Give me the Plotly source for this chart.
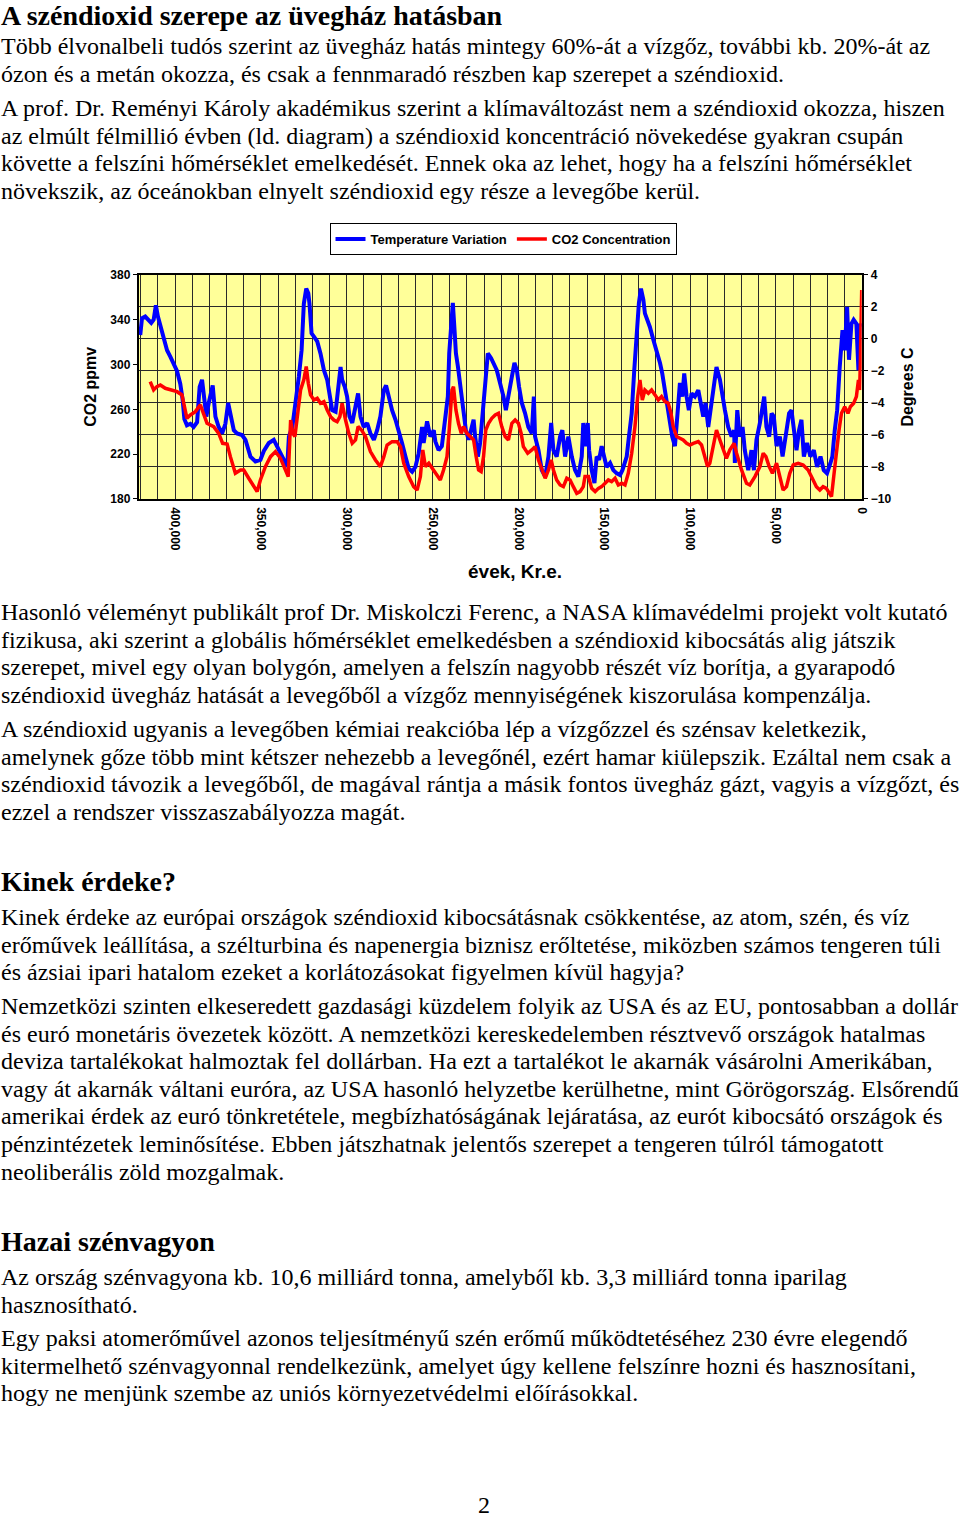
import plotly.graph_objects as go

W, H = 960, 1517

# ---------------- data ----------------
temp_years = [420300, 419300, 417400, 415400, 413900, 412500, 411200, 410000, 408600, 406700,
              404700, 402800, 400900, 398900, 397000, 395600, 394600, 393100, 391100, 389200,
              387200, 385700, 384300, 383000, 381800, 380400, 379100, 378100, 376500, 374600,
              372600, 370700, 369100, 367800, 365800, 363900, 361000, 359000, 356100, 353200,
              350300, 348300, 345400, 342500, 340500, 337600, 335600, 334700, 333700, 331700,
              329800, 327900, 326300, 325000, 323600, 322400, 321700, 320500, 319100, 317200,
              315300, 313300, 311400, 310000, 308500, 306500, 304600, 303600, 302700, 301100,
              299800, 298400, 296800, 294900, 293400, 292000, 290100, 288100, 286200, 284200,
              282300, 280400, 278400, 277100, 275500, 273600, 271600, 269700, 267800, 265800,
              263900, 261900, 260000, 258100, 256100, 255200, 253200, 251300, 249300, 248400,
              246500, 244600, 242600, 241100, 240300, 239100, 238200, 237200, 236400, 235200,
              233900, 232000, 230600, 229000, 227500, 226100, 225200, 223600, 222300, 220900,
              219400, 217800, 215900, 213900, 212600, 210700, 208700, 207300, 205800, 203800,
              202300, 200900, 199600, 198000, 196100, 194200, 192200, 191000, 190300, 188300,
              186400, 184400, 182500, 180900, 179600, 177700, 175700, 174400, 172800, 170900,
              168900, 167000, 165100, 163100, 162200, 161200, 159600, 158800, 157300, 155700,
              154400, 153000, 151500, 149900, 148600, 146600, 144700, 142700, 140800, 139400,
              138300, 136900, 135600, 134000, 132500, 131100, 129800, 128600, 127200, 126300,
              124700, 123400, 121400, 119500, 117500, 116200, 114600, 113100, 111700, 110400,
              108800, 107300, 105900, 104500, 103400, 102000, 100700, 99100, 97200, 95200,
              93700, 92300, 91000, 89400, 87500, 85900, 84600, 82600, 81300, 79700,
              77800, 75800, 74300, 73900, 72500, 71000, 69400, 68100, 66100, 64200,
              62800, 61300, 59300, 57800, 56800, 55500, 53900, 52500, 51200, 49600,
              47700, 46100, 44200, 42300, 40900, 39600, 38000, 36500, 35100, 33700,
              31800, 29900, 27900, 26000, 24000, 22100, 20200, 18200, 17100, 15700,
              14300, 12800, 11200, 9900, 8500, 7400, 6000, 4700, 3100, 1900,
              1200, 400]
temp_values = [0.25, 1.29, 1.4, 1.2, 1.0, 1.2, 2.1, 1.4, 0.8, 0.15,
               -0.7, -1.1, -1.5, -2.0, -2.8, -3.8, -5.0, -5.4, -5.3, -5.5,
               -5.2, -3.0, -2.55, -4.0, -4.85, -4.0, -3.2, -2.9, -4.85, -5.5,
               -5.9, -5.3, -4.0, -4.65, -5.7, -5.9, -6.0, -6.3, -7.35, -7.65,
               -7.55, -7.0, -6.5, -6.3, -6.7, -7.35, -7.77, -8.0, -6.1, -5.5,
               -4.0, -2.35, -0.7, 2.2, 3.15, 2.85, 2.2, 0.35, 0.15, -0.15,
               -0.9, -1.95, -2.55, -3.6, -4.45, -4.55, -2.55, -1.75, -2.55, -3.0,
               -3.6, -4.85, -5.25, -4.25, -3.4, -4.85, -5.5, -5.25, -5.9, -6.3,
               -5.7, -4.85, -3.2, -2.9, -3.6, -4.45, -5.05, -5.7, -6.5, -7.35,
               -8.1, -8.3, -8.0, -7.15, -5.5, -6.5, -5.15, -6.1, -5.7, -6.4,
               -6.95, -6.7, -5.05, -3.6, -0.9, 1.2, 2.25, 0.55, -0.9, -1.75,
               -3.0, -4.45, -5.7, -6.3, -5.5, -5.05, -6.1, -7.35, -6.5, -4.85,
               -3.0, -0.9, -1.2, -1.75, -1.95, -2.75, -3.6, -4.45, -3.4, -2.35,
               -1.5, -1.95, -3.0, -4.0, -4.65, -5.5, -5.9, -3.6, -6.1, -6.95,
               -8.2, -8.6, -7.35, -5.25, -6.95, -7.35, -6.1, -5.7, -7.35, -6.1,
               -7.35, -8.2, -8.6, -7.35, -5.25, -6.7, -5.25, -6.95, -8.2, -9.0,
               -7.35, -7.55, -6.7, -7.35, -8.0, -7.75, -8.2, -8.4, -8.5, -8.2,
               -7.75, -7.35, -6.1, -4.65, -1.95, 0.15, 2.25, 3.15, 2.45, 1.6,
               1.2, 0.75, -0.05, -0.7, -1.5, -2.15, -3.2, -4.25, -5.25, -6.1,
               -6.7, -4.65, -2.75, -3.6, -2.15, -3.6, -4.45, -3.4, -3.6, -3.2,
               -4.0, -4.85, -4.0, -5.5, -4.0, -2.55, -1.75, -2.55, -3.6, -4.45,
               -5.5, -6.1, -5.7, -7.75, -4.45, -6.1, -5.5, -6.95, -8.2, -6.95,
               -8.2, -6.3, -5.25, -4.0, -3.6, -5.5, -6.1, -4.65, -4.85, -6.7,
               -6.1, -7.35, -6.1, -4.65, -4.45, -5.7, -6.95, -5.7, -5.05, -7.35,
               -6.5, -7.35, -6.95, -8.0, -7.35, -8.2, -8.4, -7.75, -7.35, -5.7,
               -4.45, -1.75, 0.55, -0.7, 2.0, -1.3, 0.95, 1.2, 0.95, -1.95,
               0.95, 0.75]

co2_years = [414500, 412500, 410600, 408600, 405700, 401800, 398900, 396000, 394400, 393100,
             391100, 388200, 385300, 383300, 381400, 377500, 374600, 372300, 369700, 367800,
             364900, 361900, 360000, 357100, 354200, 352200, 350300, 347400, 344400, 341500,
             338600, 335600, 334100, 332700, 331400, 330200, 328800, 326900, 325000, 323600,
             322400, 321100, 319100, 317200, 315300, 313300, 311400, 309400, 307500, 305600,
             304000, 302700, 300700, 298800, 296800, 294900, 293400, 291400, 289100, 286200,
             283300, 280400, 278400, 276500, 273600, 270700, 268700, 266800, 263900, 261000,
             259000, 257100, 255700, 254200, 252200, 250300, 248400, 245500, 243600, 241600,
             240300, 238700, 237800, 236400, 234900, 233300, 232000, 230000, 228100, 226100,
             224600, 223200, 221700, 220300, 219000, 217400, 215500, 213500, 211600, 209700,
             207700, 205800, 203800, 201900, 200000, 198400, 197100, 194600, 192200, 190300,
             188300, 186400, 184400, 182500, 180900, 179600, 177700, 175700, 173800, 171800,
             169900, 168000, 166000, 164100, 162200, 161200, 159200, 157300, 155300, 153400,
             151500, 149500, 147600, 145700, 143700, 141800, 139800, 137900, 136000, 134000,
             132100, 130500, 129200, 127800, 126300, 124300, 122400, 120400, 118500, 116600,
             114600, 112700, 111100, 109800, 107800, 105900, 104000, 102000, 100100, 98100,
             95200, 93300, 91400, 89800, 88500, 86500, 84600, 82600, 80700, 78800,
             76800, 74300, 72900, 70000, 67100, 65200, 62200, 59300, 57400, 55800,
             53900, 52000, 49600, 47700, 45800, 43800, 41900, 39900, 37000, 34100,
             31200, 28300, 26400, 24400, 22500, 20600, 18600, 17600, 16300, 14700,
             13200, 11800, 9900, 8000, 6600, 4700, 3100, 1900, 1200, 800,
             400, 0]
co2_values = [284.8, 277.3, 280.3, 281.8, 278.8, 277.3, 275.8, 272.9, 259.5, 252.0,
              255.0, 258.0, 264.0, 256.5, 247.6, 244.6, 238.6, 229.7, 229.1, 217.8,
              202.9, 205.9, 205.9, 198.5, 191.0, 186.6, 197.0, 208.9, 217.8, 222.3,
              216.3, 204.0, 200.0, 250.5, 238.6, 235.7, 253.5, 277.3, 286.3, 298.2,
              283.3, 272.9, 268.4, 269.9, 265.4, 266.9, 259.5, 253.5, 250.5, 249.0,
              253.5, 265.4, 250.5, 238.6, 229.7, 232.7, 244.6, 241.6, 235.7, 222.3,
              214.8, 208.9, 217.8, 228.2, 231.2, 231.2, 226.7, 211.9, 200.0, 191.0,
              188.0, 200.0, 223.8, 208.9, 211.9, 207.4, 204.0, 197.0, 205.9, 217.8,
              241.6, 277.3, 280.3, 259.5, 247.6, 238.6, 244.6, 238.6, 235.7, 232.7,
              217.8, 205.9, 204.4, 217.8, 241.6, 247.6, 252.0, 255.0, 256.5, 244.6,
              235.7, 232.7, 247.6, 250.5, 247.6, 238.6, 226.7, 220.8, 223.8, 226.7,
              214.8, 205.9, 198.5, 205.9, 214.8, 205.9, 197.0, 192.5, 191.0, 198.5,
              197.0, 191.0, 185.1, 186.6, 191.0, 200.0, 200.0, 189.5, 186.6, 189.5,
              191.0, 194.0, 197.0, 195.5, 198.5, 192.5, 194.0, 192.5, 202.9, 220.8,
              244.6, 271.4, 286.3, 268.4, 277.3, 274.4, 277.3, 272.9, 268.4, 271.4,
              266.9, 265.4, 256.5, 244.6, 235.7, 234.2, 232.7, 229.7, 228.2, 229.7,
              231.2, 228.2, 217.8, 208.9, 211.9, 226.7, 241.6, 232.7, 223.8, 216.3,
              223.8, 229.7, 220.8, 205.9, 194.0, 192.5, 200.0, 208.9, 220.8, 217.8,
              208.9, 202.9, 211.9, 200.0, 188.0, 191.0, 202.9, 210.4, 211.9, 210.4,
              205.9, 197.0, 191.0, 188.0, 191.0, 189.5, 185.1, 182.1, 200.0, 223.8,
              241.6, 256.5, 262.4, 256.5, 262.4, 265.4, 271.4, 286.3, 277.3, 301.1,
              339.8, 366.6]

x_tick_values = [400000, 350000, 300000, 250000, 200000, 150000, 100000, 50000, 0]
x_tick_labels = ["400,000", "350,000", "300,000", "250,000", "200,000",
                 "150,000", "100,000", "50,000", "0"]
co2_ticks = [180, 220, 260, 300, 340, 380]
temp_ticks = [-10, -8, -6, -4, -2, 0, 2, 4]

# ---------------- page text ----------------
heading_1 = "A széndioxid szerepe az üvegház hatásban"
para_1 = [
    "Több élvonalbeli tudós szerint az üvegház hatás mintegy 60%-át a vízgőz, további kb. 20%-át az",
    "ózon és a metán okozza, és csak a fennmaradó részben kap szerepet a széndioxid.",
]
para_2 = [
    "A prof. Dr. Reményi Károly akadémikus szerint a klímaváltozást nem a széndioxid okozza, hiszen",
    "az elmúlt félmillió évben (ld. diagram) a széndioxid koncentráció növekedése gyakran csupán",
    "követte a felszíni hőmérséklet emelkedését. Ennek oka az lehet, hogy ha a felszíni hőmérséklet",
    "növekszik, az óceánokban elnyelt széndioxid egy része a levegőbe kerül.",
]
para_3 = [
    "Hasonló véleményt publikált prof Dr. Miskolczi Ferenc, a NASA klímavédelmi projekt volt kutató",
    "fizikusa, aki szerint a globális hőmérséklet emelkedésben a széndioxid kibocsátás alig játszik",
    "szerepet, mivel egy olyan bolygón, amelyen a felszín nagyobb részét víz borítja, a gyarapodó",
    "széndioxid üvegház hatását a levegőből a vízgőz mennyiségének kiszorulása kompenzálja.",
]
para_4 = [
    "A széndioxid ugyanis a levegőben kémiai reakcióba lép a vízgőzzel és szénsav keletkezik,",
    "amelynek gőze több mint kétszer nehezebb a levegőnél, ezért hamar kiülepszik. Ezáltal nem csak a",
    "széndioxid távozik a levegőből, de magával rántja a másik fontos üvegház gázt, vagyis a vízgőzt, és",
    "ezzel a rendszer visszaszabályozza magát.",
]
heading_2 = "Kinek érdeke?"
para_5 = [
    "Kinek érdeke az európai országok széndioxid kibocsátásnak csökkentése, az atom, szén, és víz",
    "erőművek leállítása, a szélturbina és napenergia biznisz erőltetése, miközben számos tengeren túli",
    "és ázsiai ipari hatalom ezeket a korlátozásokat figyelmen kívül hagyja?",
]
para_6 = [
    "Nemzetközi szinten elkeseredett gazdasági küzdelem folyik az USA és az EU, pontosabban a dollár",
    "és euró monetáris övezetek között. A nemzetközi kereskedelemben résztvevő országok hatalmas",
    "deviza tartalékokat halmoztak fel dollárban. Ha ezt a tartalékot le akarnák vásárolni Amerikában,",
    "vagy át akarnák váltani euróra, az USA hasonló helyzetbe kerülhetne, mint Görögország. Elsőrendű",
    "amerikai érdek az euró tönkretétele, megbízhatóságának lejáratása, az eurót kibocsátó országok és",
    "pénzintézetek leminősítése. Ebben játszhatnak jelentős szerepet a tengeren túlról támogatott",
    "neoliberális zöld mozgalmak.",
]
heading_3 = "Hazai szénvagyon"
para_7 = [
    "Az ország szénvagyona kb. 10,6 milliárd tonna, amelyből kb. 3,3 milliárd tonna iparilag",
    "hasznosítható.",
]
para_8 = [
    "Egy paksi atomerőművel azonos teljesítményű szén erőmű működtetéséhez 230 évre elegendő",
    "kitermelhető szénvagyonnal rendelkezünk, amelyet úgy kellene felszínre hozni és hasznosítani,",
    "hogy ne menjünk szembe az uniós környezetvédelmi előírásokkal.",
]
page_number = "2"

# ---------------- helpers ----------------
SERIF = "Times New Roman, Liberation Serif, serif"
SANS = "Arial, Liberation Sans, sans-serif"
LINE = 27.6


def fx(px):
    return ((px + 1.0) / 0.9942) / W


def fy(py):
    return 1 - ((py - 7.1) / 0.9906) / H


annotations = []


def text_line(txt, x, y, size=24, bold=False, family=SERIF, anchor="left", angle=0, raw_x=False):
    annotations.append(dict(
        text=txt, x=(x / W if raw_x else fx(x)), y=fy(y), xref="paper", yref="paper",
        xanchor=anchor, yanchor="middle", showarrow=False, textangle=angle,
        borderpad=0,
        font=dict(family=family, size=size, color="black",
                  weight="bold" if bold else "normal"),
    ))


def paragraph(lines, y0):
    for i, ln in enumerate(lines):
        text_line(ln, 0, y0 + i * LINE, raw_x=True)


text_line(heading_1, 0, 16, size=28, bold=True, raw_x=True)
paragraph(para_1, 46)
paragraph(para_2, 108)
paragraph(para_3, 612)
paragraph(para_4, 729)
text_line(heading_2, 0, 881, size=28, bold=True, raw_x=True)
paragraph(para_5, 917)
paragraph(para_6, 1006)
text_line(heading_3, 0, 1241, size=28, bold=True, raw_x=True)
paragraph(para_7, 1277)
paragraph(para_8, 1338)
text_line(page_number, 484, 1505, anchor="center")

# chart titles
text_line("CO2 ppmv", 90, 387, size=16, bold=True, family=SANS, anchor="center", angle=-90)
text_line("Degrees C", 908, 387, size=16, bold=True, family=SANS, anchor="center", angle=-90)
text_line("évek, Kr.e.", 515, 572, size=19, bold=True, family=SANS, anchor="center")

# ---------------- figure ----------------
fig = go.Figure()
fig.add_trace(go.Scatter(
    x=temp_years, y=temp_values, name="Temperature Variation", mode="lines",
    line=dict(color="#0000FF", width=4), yaxis="y"))
fig.add_trace(go.Scatter(
    x=co2_years, y=co2_values, name="CO2 Concentration", mode="lines",
    line=dict(color="#FF0000", width=3.5), yaxis="y2"))

tickfont = dict(family=SANS, size=12, color="black", weight="bold")
GRID = "#2a2a2a"
ydom = [fy(499), fy(275)]

fig.update_layout(
    width=W, height=H,
    margin=dict(l=0, r=0, t=0, b=0),
    paper_bgcolor="white",
    plot_bgcolor="#FFFF99",
    showlegend=True,
    legend=dict(
        orientation="h", x=fx(329), y=fy(223), xanchor="left", yanchor="top",
        bordercolor="black", borderwidth=1, bgcolor="white",
        font=dict(family=SANS, size=13, color="black", weight="bold"),
        tracegroupgap=0, itemwidth=30,
    ),
    xaxis=dict(
        domain=[fx(138), fx(862)], range=[421150, 0], anchor="y",
        tickmode="array", tickvals=x_tick_values, ticktext=x_tick_labels,
        tickangle=90, tickfont=tickfont, ticks="outside", ticklen=4,
        tickcolor="rgba(0,0,0,0)",
        showgrid=True, gridcolor=GRID, gridwidth=1,
        minor=dict(tickmode="linear", tick0=0, dtick=10000, showgrid=True,
                   gridcolor=GRID, gridwidth=1, ticks=""),
        showline=True, linecolor="black", linewidth=1.5, mirror=True,
        zeroline=False,
    ),
    yaxis=dict(
        domain=ydom, range=[-10, 4], side="right", anchor="x",
        tickmode="array", tickvals=temp_ticks, tickfont=tickfont,
        ticks="outside", ticklen=5, tickcolor="black",
        showgrid=True, gridcolor=GRID, gridwidth=1,
        showline=True, linecolor="black", linewidth=1.5, mirror=True,
        zeroline=False,
    ),
    yaxis2=dict(
        domain=ydom, range=[180, 380], side="left", overlaying="y", anchor="x",
        tickmode="array", tickvals=co2_ticks, tickfont=tickfont,
        ticks="outside", ticklen=5, tickcolor="black",
        showgrid=False, showline=False, zeroline=False,
    ),
    annotations=annotations,
)

fig.write_html(
    "out.html",
    config={"displayModeBar": False},
    post_script="document.body.style.margin='0px';document.body.style.padding='0px';"
                "document.documentElement.style.overflow='hidden';",
)
